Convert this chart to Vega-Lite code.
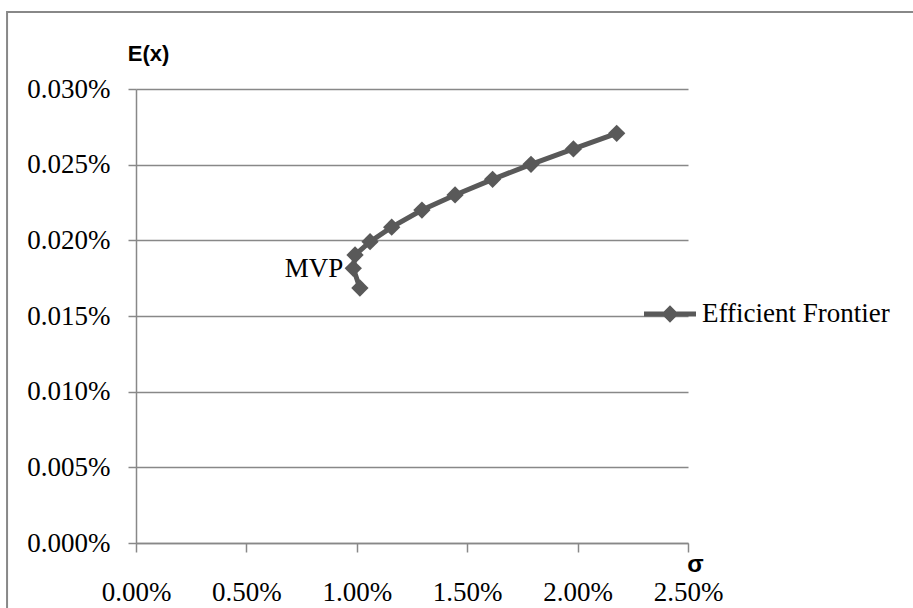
{
  "$schema": "https://vega.github.io/schema/vega-lite/v6.json",
  "autosize": {"type": "none"},
  "width": 552,
  "height": 454,
  "padding": {"left": 136, "top": 89, "right": 225, "bottom": 65},
  "background": "white",
  "config": {"view": {"stroke": null}},
  "datasets": {
    "frontier": [
      {"step": 1, "sigma": 0.01014, "ret": 0.0001685, "series": "Efficient Frontier", "label": ""},
      {"step": 2, "sigma": 0.00984, "ret": 0.0001815, "series": "Efficient Frontier", "label": "MVP"},
      {"step": 3, "sigma": 0.00992, "ret": 0.0001903, "series": "Efficient Frontier", "label": ""},
      {"step": 4, "sigma": 0.01060, "ret": 0.0001991, "series": "Efficient Frontier", "label": ""},
      {"step": 5, "sigma": 0.01158, "ret": 0.0002087, "series": "Efficient Frontier", "label": ""},
      {"step": 6, "sigma": 0.01295, "ret": 0.0002200, "series": "Efficient Frontier", "label": ""},
      {"step": 7, "sigma": 0.01445, "ret": 0.0002300, "series": "Efficient Frontier", "label": ""},
      {"step": 8, "sigma": 0.01615, "ret": 0.0002403, "series": "Efficient Frontier", "label": ""},
      {"step": 9, "sigma": 0.01789, "ret": 0.0002502, "series": "Efficient Frontier", "label": ""},
      {"step": 10, "sigma": 0.01981, "ret": 0.0002604, "series": "Efficient Frontier", "label": ""},
      {"step": 11, "sigma": 0.02177, "ret": 0.0002707, "series": "Efficient Frontier", "label": ""}
    ],
    "frame": [
      {"x1": -0.00584, "x2": 0.04, "y1": 0.0003509, "y2": -0.00011}
    ]
  },
  "encoding": {
    "x": {
      "type": "quantitative",
      "scale": {"domain": [0, 0.025], "nice": false, "zero": false},
      "axis": {
        "values": [0, 0.005, 0.01, 0.015, 0.02, 0.025],
        "format": ".2%",
        "grid": false,
        "domainColor": "#888888",
        "domainWidth": 1.5,
        "tickColor": "#888888",
        "tickWidth": 1.5,
        "tickSize": 9,
        "labelFont": "Liberation Serif",
        "labelFontSize": 27,
        "labelColor": "black",
        "labelPadding": 27,
        "labelFlush": false,
        "title": "σ",
        "titleFont": "Liberation Sans",
        "titleFontWeight": "bold",
        "titleFontSize": 24,
        "titleColor": "black",
        "titleAngle": 0,
        "titleX": 559,
        "titleY": 28,
        "titleAlign": "center",
        "titleBaseline": "alphabetic"
      }
    },
    "y": {
      "type": "quantitative",
      "scale": {"domain": [0, 0.0003], "nice": false, "zero": false},
      "axis": {
        "values": [0, 0.00005, 0.0001, 0.00015, 0.0002, 0.00025, 0.0003],
        "format": ".3%",
        "grid": true,
        "gridColor": "#888888",
        "gridWidth": 1.5,
        "domainColor": "#888888",
        "domainWidth": 1.5,
        "tickColor": "#888888",
        "tickWidth": 1.5,
        "tickSize": 8,
        "labelFont": "Liberation Serif",
        "labelFontSize": 27,
        "labelColor": "black",
        "labelPadding": 18,
        "labelFlush": false,
        "title": "E(x)",
        "titleFont": "Liberation Sans",
        "titleFontWeight": "bold",
        "titleFontSize": 22,
        "titleColor": "black",
        "titleAngle": 0,
        "titleX": 12,
        "titleY": -29,
        "titleAlign": "center",
        "titleBaseline": "alphabetic"
      }
    }
  },
  "layer": [
    {
      "data": {"name": "frame"},
      "mark": {"type": "rect", "filled": false, "stroke": "#888888", "strokeWidth": 2, "clip": false},
      "encoding": {
        "x": {"field": "x1", "type": "quantitative"},
        "x2": {"field": "x2"},
        "y": {"field": "y1", "type": "quantitative"},
        "y2": {"field": "y2"}
      }
    },
    {
      "data": {"name": "frontier"},
      "mark": {"type": "line", "color": "#595959", "strokeWidth": 5},
      "encoding": {
        "x": {"field": "sigma", "type": "quantitative"},
        "y": {"field": "ret", "type": "quantitative"},
        "order": {"field": "step", "type": "quantitative"}
      }
    },
    {
      "data": {"name": "frontier"},
      "mark": {"type": "point", "shape": "diamond", "filled": true, "size": 300, "opacity": 1},
      "encoding": {
        "x": {"field": "sigma", "type": "quantitative"},
        "y": {"field": "ret", "type": "quantitative"},
        "color": {
          "field": "series",
          "type": "nominal",
          "scale": {"range": ["#595959"]},
          "legend": {
            "title": null,
            "orient": "none",
            "legendX": 508,
            "legendY": 199,
            "symbolType": "M-1,-0.096L-0.237,-0.096L0,-0.333L0.237,-0.096L1,-0.096L1,0.096L0.237,0.096L0,0.333L-0.237,0.096L-1,0.096Z",
            "symbolSize": 2704,
            "symbolStrokeWidth": 0,
            "symbolOpacity": 1,
            "labelFont": "Liberation Serif",
            "labelFontSize": 27,
            "labelColor": "black",
            "labelOffset": 6,
            "labelLimit": 400
          }
        }
      }
    },
    {
      "data": {"name": "frontier"},
      "transform": [{"filter": "datum.label != ''"}],
      "mark": {"type": "text", "align": "right", "baseline": "middle", "dx": -10, "dy": 1, "font": "Liberation Serif", "fontSize": 27, "color": "black"},
      "encoding": {
        "x": {"field": "sigma", "type": "quantitative"},
        "y": {"field": "ret", "type": "quantitative"},
        "text": {"field": "label"}
      }
    }
  ]
}
